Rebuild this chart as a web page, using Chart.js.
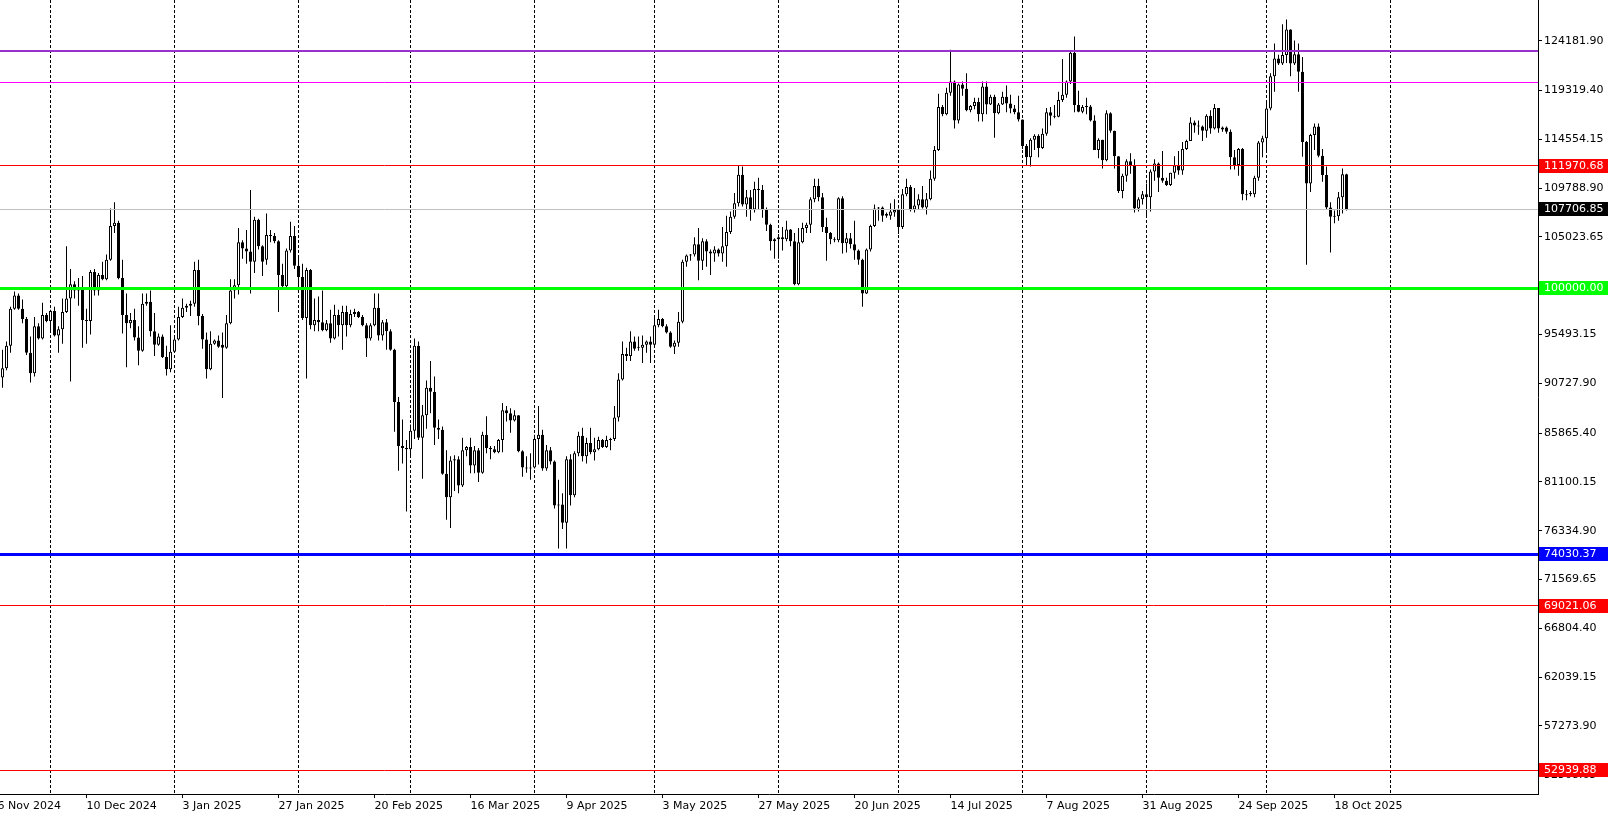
<!DOCTYPE html>
<html><head><meta charset="utf-8">
<script src="https://cdn.jsdelivr.net/npm/chart.js@4.4.1/dist/chart.umd.min.js"></script>
<style>html,body{margin:0;padding:0;background:#fff;overflow:hidden}#wrap{width:1608px;height:815px;position:relative;background:#fff}</style>
</head><body><div id="wrap"><canvas id="c"></canvas></div>
<script>
// day index 0 = 16 Nov 2024; first candle = day 3 (19 Nov 2024), daily
const firstDay = 3;
const opens = [
91300,92200,94400,98000,99300,98000,97000,93700,91700,96300,
95100,97400,96800,97800,95400,96000,97700,99000,100400,99800,
100100,96900,96800,101600,99800,101300,100900,102800,106100,106400,
101000,97400,96600,96900,95200,93900,98500,98700,95800,94500,
95300,93300,92100,93800,95000,97200,98100,98300,98500,101800,
97300,95000,92100,94600,94900,94500,94200,96600,99800,100300,
104500,103900,103600,102600,106700,104100,102800,105200,105100,104600,
101300,100200,103700,105100,102200,101100,97100,101800,96400,96900,
96700,95900,96600,95100,97400,96400,97700,96400,97500,97700,
97200,96400,95100,96400,98100,95400,96700,95800,94000,88900,
84600,84400,84300,86100,94400,85400,87600,90300,89900,86400,
86200,81900,79600,83200,83300,80750,84200,84500,82700,84200,
82000,85700,84400,84300,84000,85200,88100,87800,87100,87600,
84100,82500,82400,82500,85300,85700,82400,84200,83100,78800,
78900,77100,83300,79800,83900,85600,83600,84900,84000,84300,
85200,84500,85200,85300,87400,91100,93600,93400,94800,94300,
94200,94500,94800,94500,96400,97000,96300,95700,94300,94700,
96750,102600,103200,103300,104300,102700,104600,103600,103400,103800,
103400,104100,105500,107000,108300,111100,108200,108900,107700,109700,
109600,107700,106200,104600,104800,105000,104800,105750,104600,100400,
104500,105900,106200,108700,110000,108900,106000,105400,104800,104700,
108800,104400,104900,104300,103700,102800,99500,103800,106100,107800,
107900,107250,107100,107400,107650,106000,109200,109900,107700,108100,
108700,107900,108700,110700,113500,117700,117000,119100,120200,116400,
119900,119500,117400,117800,118200,117000,119700,117950,118700,117100,
117950,118700,118050,117570,117200,116500,113900,112800,114500,114900,
113700,115100,117200,116850,116750,118400,118900,120200,123000,117900,
117250,117700,117750,116400,113500,114500,112500,117100,115400,112900,
109500,111000,112400,112000,107800,108700,109200,108900,111400,112200,
110800,110500,110100,111300,112000,111500,113600,114400,116200,115900,
115800,115400,116850,115600,117600,115500,115700,115300,112800,112050,
113600,109200,109300,109200,110800,114250,114650,117570,120700,122450,
121960,122780,125280,121960,122850,121150,114300,110250,114980,115800,
112950,111070,107900,107000,107050,108900,111150];
const highs = [
94000,94800,98200,99700,99500,98900,97200,95300,97200,96600,
98600,97600,97900,98200,96300,99000,104100,101900,100700,101000,
101200,98000,101800,101900,101500,102600,103300,107800,108400,106600,
102800,99500,97600,98000,96300,99500,99500,99800,97600,95600,
95500,94400,96400,95200,98200,99000,98500,98800,102600,102800,
97500,95700,95800,95000,95400,95700,97400,100900,100900,105900,
104700,105700,109600,107000,106800,104200,107300,105700,105400,104700,
102400,103900,106500,106100,103100,102400,102000,101900,99000,99200,
99800,96900,97900,98400,97900,98300,98300,97900,98000,97800,
97400,96600,96600,99500,99500,96900,97000,96000,94100,89400,
87200,85200,86700,95100,94800,88600,91000,92900,91400,87200,
86500,84200,83600,83700,83600,85400,84600,85400,84600,84400,
86000,87500,84600,84600,85300,88800,88500,88300,88100,87600,
84200,83600,83900,85700,88500,86200,84700,84500,83200,81300,
80000,83600,83800,84100,86000,86400,85400,86400,85400,85500,
85300,85600,85400,88500,91700,94800,94200,95800,95300,95300,
95400,94900,95300,97400,97900,97100,96500,95800,94900,97700,
102800,103300,103350,105000,105900,104900,104800,103800,104100,103900,
106000,107100,107500,109300,112000,111900,109600,109600,110400,110800,
110100,107900,106300,104900,105300,106000,106600,105800,105400,105900,
106400,106400,108900,110700,110700,109300,106900,105500,105000,108900,
109000,105400,105400,106600,103800,102900,103900,106200,108200,107950,
108000,107400,108300,108700,107800,109700,110700,110100,109800,109200,
110000,109300,111500,113900,119000,117900,119600,123300,120300,120000,
120200,121000,117900,118600,118600,120200,120200,118900,118900,118100,
119200,119800,118900,117900,118800,116500,114100,114650,115050,115050,
115600,117600,117700,117900,119200,122400,120300,123100,124600,119300,
117900,118600,117900,116900,114650,114500,117400,117200,115400,112900,
111200,112600,113200,112600,108900,109500,110250,111600,112600,112300,
113400,110800,111300,112900,113400,114300,114500,116700,116400,116400,
115900,117000,117400,118000,117600,115800,115800,115500,113500,113700,
113700,109600,109500,111000,114400,114900,118400,121000,123900,122800,
125800,126260,125300,124200,123900,122600,114400,115100,116100,116100,
113600,111900,108400,107600,109400,111700,111200];
const lows = [
90300,92000,93700,97900,97900,96600,93500,90800,91400,95000,
95000,96700,95800,95300,93700,94600,97600,90900,99000,98300,
94200,94600,95500,99300,99300,100800,100800,102700,105400,100900,
95600,92300,96100,94900,92500,93800,98300,95300,93400,94400,
93200,91500,91800,93700,94900,97100,97700,97300,98200,96400,
94100,91200,92000,94500,94200,89300,94100,96500,99000,99400,
102900,102400,99500,101500,103800,101200,102300,104500,104400,97700,
100100,100000,103500,101900,100100,96900,91200,96000,95800,95800,
95800,95800,94700,95000,95300,94000,95300,96200,97200,97100,
96300,93300,94900,96300,94900,94900,94000,93900,86000,82200,
82900,78200,83500,85300,85200,81400,86300,87800,84700,85300,
81800,77400,76600,80200,80000,80600,83600,81950,81950,81100,
81900,83900,83300,83900,83900,84000,87000,85900,87000,84000,
81600,82000,81300,82400,82800,82200,82200,82800,78500,74600,
76500,74600,78800,79600,83600,83100,82900,83800,83200,84200,
84400,84400,84200,85100,87000,91000,92900,92900,93900,93900,
92700,93700,92700,94300,96200,96200,95600,94200,93600,94300,
96600,102100,102700,103100,100800,101800,102100,101300,102600,103100,
102600,102100,105300,106800,108000,108000,107000,106600,107400,107700,
106900,105600,103700,102900,102900,103700,104600,104100,100300,100300,
104400,105400,105400,108400,108500,105500,102700,104300,104500,104500,
103400,103500,103900,102800,102300,98200,99450,103600,106000,106600,
106500,106900,106700,107000,105300,105800,109000,107500,107400,107700,
107800,107200,108600,110500,113400,116800,116900,118800,115600,116100,
118800,117300,117200,117500,116300,116300,117000,117900,114700,117000,
117900,117200,117100,117000,116300,113600,112000,111900,113500,112800,
113600,114900,115900,116600,116700,118200,118600,119950,117200,117200,
117100,117000,116300,113500,112700,111700,112400,115200,111700,109300,
108800,110400,111200,107400,107500,108200,107000,107500,110500,109400,
110300,110000,110000,110700,111100,111100,113500,114400,115200,115000,
114400,114700,115100,115500,115200,115300,115100,111600,111600,111000,
108600,108600,109000,108900,110500,112800,113500,117400,119200,121800,
121800,122000,120700,121800,119200,112850,102300,109400,113500,112800,
110400,107650,103500,106350,106600,107300,107600];
const closes = [
92200,94400,98000,99300,98000,97000,93700,91700,96300,95100,
97400,96800,97800,95400,96000,97700,99000,100400,99800,100100,
96900,96800,101600,99800,101300,100900,102800,106100,106400,101000,
97400,96600,96900,95200,93900,98500,98700,95800,94500,95300,
93300,92100,93800,95000,97200,98100,98300,98500,101800,97300,
95000,92100,94600,94900,94300,94200,96600,99800,100300,104500,
103900,103600,102600,106700,104100,102600,105200,105100,104600,101300,
100200,103700,105100,102200,101100,97100,101800,96400,96900,96700,
95900,96600,95100,97400,96400,97700,96400,97500,97700,97200,
96400,95100,96400,98100,95400,96700,95800,94000,88900,84600,
84400,84300,86100,94400,85400,87600,90300,89900,86400,86200,
81900,79600,83200,83300,80750,84200,84500,82700,84200,82000,
85700,84400,84300,84000,85200,88100,87800,87100,87600,84100,
82500,82400,82500,85300,85700,82400,84200,83100,78800,78900,
77100,83300,79800,83900,85600,83600,84900,84000,84300,85200,
84500,85200,85300,87400,91100,93600,93400,94800,94100,94200,
94500,94800,94500,96400,97000,96300,95700,94300,94700,96750,
102600,103200,103300,104300,102700,104600,103600,103400,103800,103400,
104100,105500,107000,108300,111100,108200,108900,107700,109700,109600,
107700,106200,104600,104800,105000,104800,105750,104600,100400,104500,
105900,106200,108700,110000,108900,106000,105400,104800,104700,108800,
104400,104900,104300,103700,102800,99500,103800,106100,107800,107900,
107100,107100,107500,107650,106000,109200,109900,107700,108100,108700,
107900,108700,110700,113500,117700,117000,119100,120200,116400,119900,
119500,117400,117800,118200,117000,119700,117950,118700,117100,117950,
118700,118050,117570,117200,116500,113900,112800,114500,114900,113700,
115100,117200,116850,116750,118400,118900,120200,123000,117900,117250,
117700,117750,116400,113500,114500,112500,117100,115400,112900,109500,
111000,112400,112000,107800,108700,109200,108900,111400,112200,110800,
110500,110100,111300,112000,111500,113600,114400,116200,115900,115800,
115400,116850,115600,117600,115600,115700,115300,112800,112050,113600,
109200,109100,109200,110800,114250,114650,117570,120700,122450,121960,
122780,125280,121960,122850,121150,114300,110250,114980,115800,112950,
111070,107900,107000,107050,108900,111150,107706.85];

const dateTickDays = [0,24,48,72,96,120,144,168,192,216,240,264,288,312,336];
const dateTickLabels = ['16 Nov 2024','10 Dec 2024','3 Jan 2025','27 Jan 2025','20 Feb 2025','16 Mar 2025','9 Apr 2025','3 May 2025','27 May 2025','20 Jun 2025','14 Jul 2025','7 Aug 2025','31 Aug 2025','24 Sep 2025','18 Oct 2025'];
const monthStartDays = [15,46,77,105,136,166,197,227,258,289,319,350];

const priceTickValues = [124181.90,119319.40,114554.15,109788.90,105023.65,100258.40,95493.15,90727.90,85865.40,81100.15,76334.90,71569.65,66804.40,62039.15,57273.90,52508.65];
const priceTickLabels = ['124181.90','119319.40','114554.15','109788.90','105023.65','100258.40','95493.15','90727.90','85865.40','81100.15','76334.90','71569.65','66804.40','62039.15','57273.90','52508.65'];

const levelValues = [123206, 120110, 111970.68, 107706.85, 100000.00, 74030.37, 69021.06, 52939.88];
const levelColors = ['#9932CC','#FF00FF','#FF0000','#C0C0C0','#00FF00','#0000FF','#FF0000','#FF0000'];
const levelWidths = [2,1,1,1,3,3,1,1];
const levelTagColors = [null,null,'#FF0000','#000000','#00FF00','#0000FF','#FF0000','#FF0000'];

const xMin = 2.375, xMax = 386.875;
const yMin = 50624, yMax = 128157;
const FONT = {family: '"DejaVu Sans"', size: 11};

const days = opens.map((_, i) => firstDay + i);
const wickData = days.map((d, i) => ({x: d, y: [lows[i], highs[i]]}));
const bodyData = days.map((d, i) => ({x: d, y: [opens[i], closes[i]]}));
const bodyFill = closes.map((c, i) => c >= opens[i] ? '#FFFFFF' : '#000000');

const tagPlugin = {
  id: 'priceTags',
  afterDraw(chart) {
    const ctx = chart.ctx, ys = chart.scales.y;
    ctx.save();
    ctx.font = '11px "DejaVu Sans"';
    ctx.textBaseline = 'middle';
    ctx.textAlign = 'left';
    levelValues.forEach((v, i) => {
      if (!levelTagColors[i]) return;
      const py = Math.round(ys.getPixelForValue(v));
      ctx.fillStyle = levelTagColors[i];
      ctx.fillRect(ys.left + 1, py - 7, ys.width - 1, 14);
      ctx.fillStyle = '#FFFFFF';
      ctx.fillText(v.toFixed(2), ys.left + 6, py + 0.5);
    });
    ctx.restore();
  }
};

new Chart(document.getElementById('c'), {
  type: 'bar',
  data: {
    datasets: [
      {type: 'bar', data: bodyData, backgroundColor: bodyFill, borderColor: '#000000', borderWidth: 1,
       borderSkipped: false, barThickness: 3, grouped: false, inflateAmount: 0, minBarLength: 1, order: 1},
      {type: 'bar', data: wickData, backgroundColor: '#000000', borderWidth: 0,
       barThickness: 1, grouped: false, inflateAmount: 0, order: 2}
    ]
  },
  options: {
    responsive: true,
    maintainAspectRatio: false,
    animation: false,
    devicePixelRatio: 1,
    events: [],
    layout: {padding: 0},
    plugins: {legend: {display: false}, tooltip: {enabled: false}},
    scales: {
      x: {
        type: 'linear', position: 'bottom', min: xMin, max: xMax, bounds: 'data', offset: false,
        afterBuildTicks: s => { s.ticks = dateTickDays.map(v => ({value: v})); },
        afterFit: s => { s.height = 21; s.paddingLeft = 0; s.paddingRight = 0; },
        ticks: {callback: (v, i) => dateTickLabels[i], align: 'start', autoSkip: false, maxRotation: 0, minRotation: 0,
                font: FONT, color: '#000000', padding: 2},
        grid: {offset: false, drawOnChartArea: false, drawTicks: true, tickLength: 4, color: '#000000', lineWidth: 1},
        border: {display: true, color: '#000000', width: 1}
      },
      xm: {
        type: 'linear', position: 'top', min: xMin, max: xMax, bounds: 'data', offset: false,
        afterBuildTicks: s => { s.ticks = monthStartDays.map(v => ({value: v})); },
        afterFit: s => { s.height = 0; s.paddingLeft = 0; s.paddingRight = 0; },
        ticks: {display: false},
        grid: {offset: false, drawOnChartArea: true, drawTicks: false, color: '#000000', lineWidth: 1},
        border: {display: false, dash: [3, 2]}
      },
      ym: {
        type: 'linear', position: 'left', min: yMin, max: yMax, bounds: 'data',
        afterBuildTicks: s => { s.ticks = levelValues.map(v => ({value: v})); },
        afterFit: s => { s.width = 0; s.paddingTop = 0; s.paddingBottom = 0; },
        ticks: {display: false},
        grid: {z: 1, drawOnChartArea: true, drawTicks: false,
               color: c => levelColors[c.index], lineWidth: c => levelWidths[c.index]},
        border: {display: false}
      },
      y: {
        type: 'linear', position: 'right', min: yMin, max: yMax, bounds: 'data',
        afterBuildTicks: s => { s.ticks = priceTickValues.map(v => ({value: v})); },
        afterFit: s => { s.width = 70; s.paddingTop = 0; s.paddingBottom = 0; },
        ticks: {callback: (v, i) => priceTickLabels[i], autoSkip: false, font: FONT, color: '#000000', padding: 2},
        grid: {drawOnChartArea: false, drawTicks: true, tickLength: 4, color: '#000000', lineWidth: 1},
        border: {display: true, color: '#000000', width: 1}
      }
    }
  },
  plugins: [tagPlugin]
});
</script>
</body></html>
